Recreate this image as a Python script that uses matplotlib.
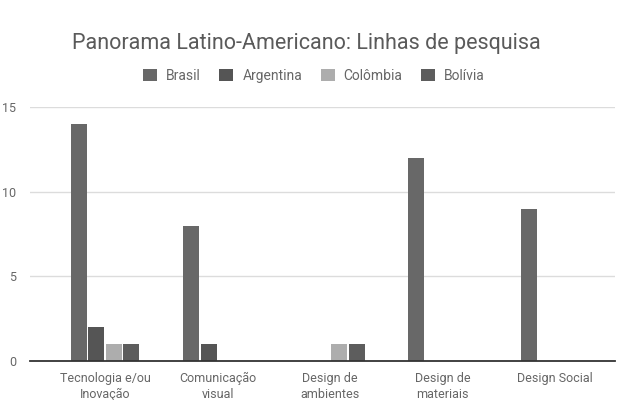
import matplotlib
matplotlib.use("Agg")
import matplotlib.pyplot as plt
import numpy as np
from matplotlib.patches import Patch

categories = ["Tecnologia e/ou\nInovação", "Comunicação\nvisual", "Design de\nambientes",
              "Design de\nmateriais", "Design Social"]
series = ["Brasil", "Argentina", "Colômbia", "Bolívia"]
brasil = [14, 8, 0, 12, 9]
argentina = [2, 1, 0, 0, 0]
colombia = [1, 0, 1, 0, 0]
bolivia = [1, 0, 1, 0, 0]
values = [brasil, argentina, colombia, bolivia]
colors = ["#686868", "#555555", "#adadad", "#5d5d5d"]
yticks = [0, 5, 10, 15]

plt.rcParams['font.family'] = ['Roboto', 'DejaVu Sans']

fig = plt.figure(figsize=(6.38, 4.0), dpi=100)
ax = fig.add_axes([30/638, 39/400, 585/638, 254/400])

x = np.arange(len(categories))
pitch = 0.156
width = 0.142
for i, (name, vals, c) in enumerate(zip(series, values, colors)):
    ax.bar(x + (i - 1.5) * pitch, vals, width=width, color=c, label=name, zorder=3)

ax.set_xlim(-0.667, 4.53)
ax.set_ylim(0, 15)
ax.set_yticks(yticks)
ax.set_xticks(x)
ax.set_xticklabels(categories, fontsize=9, color="#666666", linespacing=1.25)
ax.tick_params(axis='y', labelsize=9, labelcolor="#666666", length=0, pad=10)
ax.tick_params(axis='x', length=0, pad=8)
for lab in ax.get_yticklabels():
    lab.set_horizontalalignment('right')
ax.grid(axis='y', color="#dcdcdc", linewidth=1, zorder=0)
for s in ["top", "right", "left"]:
    ax.spines[s].set_visible(False)
ax.spines["bottom"].set_color("#333333")
ax.spines["bottom"].set_linewidth(1.3)
ax.spines["bottom"].set_zorder(4)

fig.text(306/638, 1 - 44/400, "Panorama Latino-Americano: Linhas de pesquisa",
         ha="center", va="center", fontsize=15.5, color="#5a5a5a")

handles = [Patch(facecolor=c, label=n) for n, c in zip(series, colors)]
leg = fig.legend(handles=handles, loc="center", bbox_to_anchor=(314/638, 1 - 76/400),
                 ncol=4, frameon=False, fontsize=10, handlelength=1.0, handleheight=1.0,
                 handletextpad=0.65, columnspacing=1.35, labelcolor="#666666")

fig.savefig("out.png", dpi=100)
